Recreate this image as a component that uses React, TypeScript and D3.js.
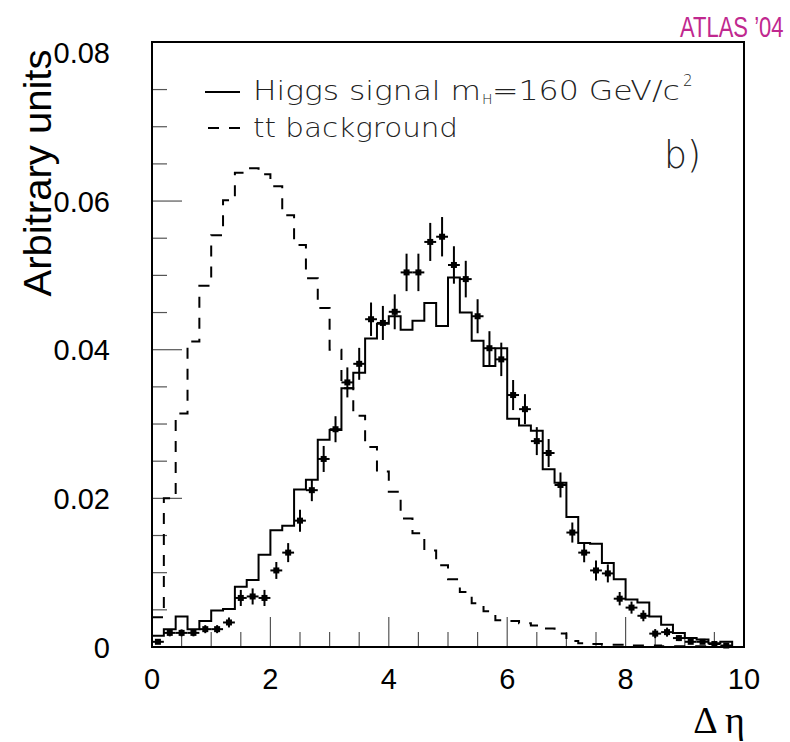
import React from "react";
import * as d3 from "d3";

// Δη bins: 50 bins of width 0.2 from 0 to 10
const binWidth = 0.2;
const nBins = 50;

// Higgs signal, m_H = 160 GeV/c^2 (solid histogram)
const signal = [
  0.0015, 0.0024, 0.0041, 0.0024, 0.0035, 0.0049, 0.0051, 0.0081, 0.0090, 0.0124,
  0.0157, 0.0163, 0.0212, 0.0225, 0.0279, 0.0292, 0.0348, 0.0369, 0.0415, 0.0435,
  0.0445, 0.0427, 0.0439, 0.0463, 0.0432, 0.0497, 0.0450, 0.0412, 0.0378, 0.0402,
  0.0307, 0.0298, 0.0291, 0.0239, 0.0221, 0.0175, 0.0140, 0.0139, 0.0113, 0.0091,
  0.0064, 0.0060, 0.0041, 0.0030, 0.0019, 0.0012, 0.0010, 0.0005, 0.0007, 0.0
];

// tt background (dashed histogram)
const background = [
  0.0040, 0.0200, 0.0314, 0.0411, 0.0486, 0.0554, 0.0601, 0.0638, 0.0644, 0.0636,
  0.0620, 0.0581, 0.0541, 0.0496, 0.0456, 0.0400, 0.0348, 0.0311, 0.0269, 0.0236,
  0.0209, 0.0173, 0.0153, 0.0130, 0.0110, 0.0091, 0.0074, 0.0059, 0.0048, 0.0036,
  0.0035, 0.0032, 0.0029, 0.0025, 0.0018, 0.0008, 0.0005, 0.0004, 0.0003, 0.0003,
  0.0002, 0.0002, 0.0002, 0.0001, 0.0001, 0.0001, 0.0001, 0.0, 0.0, 0.0
];

// points with error bars
const points = [
  0.0007, 0.0019, 0.0019, 0.0019, 0.0024, 0.0024, 0.0033, 0.0066, 0.0068, 0.0066,
  0.0103, 0.0127, 0.0170, 0.0211, 0.0253, 0.0293, 0.0356, 0.0381, 0.0441, 0.0436,
  0.0451, 0.0504, 0.0504, 0.0545, 0.0552, 0.0514, 0.0495, 0.0445, 0.0402, 0.0387,
  0.0339, 0.0320, 0.0277, 0.0261, 0.0218, 0.0154, 0.0127, 0.0103, 0.0099, 0.0065,
  0.0053, 0.0042, 0.0018, 0.0020, 0.0012, 0.0007, 0.0007, 0.0004, 0.0002, 0.0
];

const pointErrors = [
  0.0002, 0.00047, 0.00047, 0.00047, 0.00054, 0.00054, 0.00067, 0.00108, 0.00108, 0.00108,
  0.00114, 0.00128, 0.00148, 0.00148, 0.00175, 0.00175, 0.00202, 0.00215, 0.00225, 0.00229,
  0.00235, 0.00252, 0.00252, 0.00256, 0.00265, 0.00252, 0.00246, 0.00229, 0.00229, 0.00225,
  0.00202, 0.00202, 0.00188, 0.00188, 0.00168, 0.00135, 0.0013, 0.00135, 0.00121, 0.0009,
  0.00081, 0.00074, 0.00061, 0.00061, 0.0004, 0.00027, 0.00027, 0.0002, 0.0002, 0.0
];

const yTickLabels = ["0", "0.02", "0.04", "0.06", "0.08"];
const xTickLabels = ["0", "2", "4", "6", "8", "10"];

const W = 790;
const H = 742;
const left = 152, right = 744, bottom = 647;
const yMax = 0.0814;

export default function App() {
  const x = d3.scaleLinear().domain([0, 10]).range([left, right]);
  const y = d3.scaleLinear().domain([0, yMax]).range([bottom, 42]);
  const top = y(yMax);

  const stepLine = d3
    .line<[number, number]>()
    .x((d) => x(d[0]))
    .y((d) => y(d[1]))
    .curve(d3.curveStepAfter);

  const toSteps = (vals: number[]): [number, number][] => {
    const pts: [number, number][] = vals.map((v, i) => [i * binWidth, v]);
    pts.push([nBins * binWidth, vals[vals.length - 1]]);
    return pts;
  };

  const yMinor = d3.range(1, 16).map((i) => i * 0.005);
  const xMinor = d3.range(1, 20).map((i) => i * 0.5);

  const sansFont = "'Liberation Sans', Arial, Helvetica, sans-serif";
  const thinFont = "'DejaVu Sans ExtraLight', 'DejaVu Sans', sans-serif";

  return (
    <div style={{ position: "absolute", left: 0, top: 0 }}>
      <svg width={W} height={H} viewBox={`0 0 ${W} ${H}`} style={{ display: "block", background: "#fff" }}>
        {/* ticks */}
        {yMinor.map((v, i) => {
          const major = Math.abs((v / 0.02) - Math.round(v / 0.02)) < 1e-6;
          return (
            <line key={"yt" + i} x1={left} x2={left + (major ? 30 : 15)} y1={y(v)} y2={y(v)}
              stroke="#555" strokeWidth={1.2} />
          );
        })}
        {xMinor.map((v, i) => {
          const major = Math.abs(v / 2 - Math.round(v / 2)) < 1e-6;
          return (
            <line key={"xt" + i} x1={x(v)} x2={x(v)} y1={bottom} y2={bottom - (major ? 30 : 15)}
              stroke="#555" strokeWidth={1.2} />
          );
        })}

        {/* background dashed histogram */}
        <path d={stepLine(toSteps(background)) || ""} fill="none" stroke="#000" strokeWidth={2}
          strokeDasharray="11,10" />
        {/* signal solid histogram */}
        <path d={stepLine(toSteps(signal)) || ""} fill="none" stroke="#000" strokeWidth={2} />

        {/* points with errors */}
        {points.map((v, i) => {
          if (v <= 0) return null;
          const cx = x((i + 0.5) * binWidth);
          const cy = y(v);
          const e = pointErrors[i];
          return (
            <g key={"p" + i}>
              <line x1={x(i * binWidth)} x2={x((i + 1) * binWidth)} y1={cy} y2={cy} stroke="#000" strokeWidth={2} />
              {e > 0 && (
                <line x1={cx} x2={cx} y1={y(v - e)} y2={y(v + e)} stroke="#000" strokeWidth={2} />
              )}
              <rect x={cx - 3} y={cy - 3} width={6} height={6} fill="#000" />
            </g>
          );
        })}

        {/* frame */}
        <rect x={left} y={top} width={right - left} height={bottom - top} fill="none" stroke="#000" strokeWidth={2} />

        {/* y tick labels */}
        {yTickLabels.map((t, i) => (
          <text key={"yl" + i} x={110} y={y(i * 0.02) + 10.5} textAnchor="end" fontFamily={sansFont}
            fontSize={29} fill="#000">{t}</text>
        ))}
        {/* x tick labels */}
        {xTickLabels.map((t, i) => (
          <text key={"xl" + i} x={x(i * 2)} y={689} textAnchor="middle" fontFamily={sansFont}
            fontSize={29} fill="#000">{t}</text>
        ))}

        {/* axis titles */}
        <text transform="translate(51,173) rotate(-90)" textAnchor="middle" fontFamily={sansFont}
          fontSize={38} fill="#000" textLength={247} lengthAdjust="spacingAndGlyphs">Arbitrary units</text>
        <text x={745} y={733} textAnchor="end" fontFamily="'Liberation Serif', 'Times New Roman', serif"
          fontSize={38} fill="#000">Δ η</text>

        {/* ATLAS label */}
        <text transform="translate(680,37) scale(1,1.32)" fontFamily={sansFont} fontSize={22} fill="#c0288f">ATLAS ’04</text>

        {/* legend */}
        <line x1={205} x2={240} y1={92} y2={92} stroke="#000" strokeWidth={2} />
        <line x1={208} x2={240} y1={128} y2={128} stroke="#000" strokeWidth={2} strokeDasharray="11,10" />
        <g fontFamily={thinFont} fontWeight={200} fill="#222">
          <text x={253} y={100} fontSize={27} textLength={228} lengthAdjust="spacingAndGlyphs">Higgs signal m</text>
          <text x={482} y={104} fontSize={14}>H</text>
          <text x={492} y={100} fontSize={27} textLength={188} lengthAdjust="spacingAndGlyphs">=160 GeV/c</text>
          <text x={683} y={86} fontSize={15}>2</text>
          <text x={253} y={137} fontSize={27} textLength={205} lengthAdjust="spacingAndGlyphs">tt background</text>
          <text x={664} y={168} fontSize={37} textLength={37} lengthAdjust="spacingAndGlyphs">b)</text>
        </g>
      </svg>
    </div>
  );
}
